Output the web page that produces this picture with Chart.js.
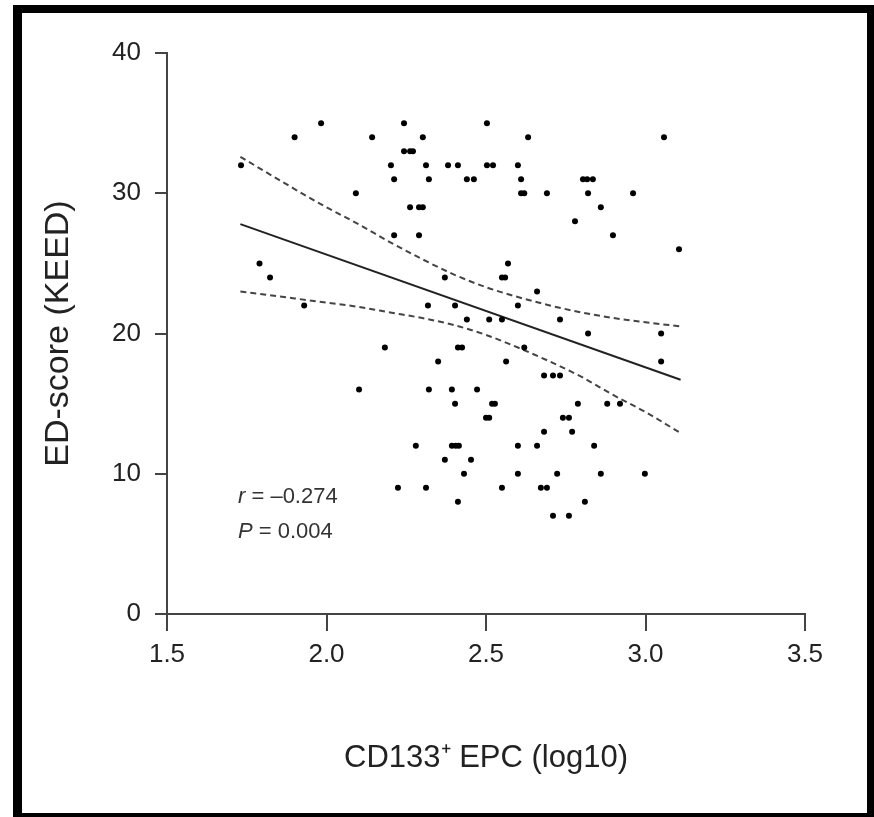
<!DOCTYPE html>
<html>
<head>
<meta charset="utf-8">
<script src="https://cdn.jsdelivr.net/npm/chart.js@4.4.1/dist/chart.umd.min.js"></script>
<style>
html, body { margin: 0; padding: 0; background: #fff; overflow: hidden; }
#frame { position: absolute; left: 13px; top: 5px; width: 861px; height: 816px; box-sizing: border-box;
  border: 8px solid #000; border-left-width: 9px; border-right-width: 7px; }
#wrap { position: absolute; left: 0; top: 0; width: 874px; height: 817px; }
</style>
</head>
<body>
<div id="frame"></div>
<div id="wrap"><canvas id="scatterChart" width="874" height="817"></canvas></div>
<script>
// CD133+ EPC (log10) vs ED-score
const epcLog = [
  1.732, 1.90, 1.983, 1.79, 1.823, 1.93,
  2.243, 2.143, 2.302, 2.243, 2.262, 2.271,
  2.202, 2.312, 2.381, 2.412, 2.503, 2.522, 2.503,
  2.212, 2.321, 2.44, 2.462,
  2.092, 2.262, 2.29, 2.302, 2.212, 2.29,
  2.569, 2.371, 2.55, 2.56,
  2.632, 3.058, 2.60, 2.61, 2.61, 2.62, 2.691, 2.804, 2.817, 2.835, 2.82, 2.86, 2.779, 2.898, 2.961, 3.105, 2.66,
  2.318, 2.403, 2.44, 2.51, 2.55, 2.183, 2.412, 2.425, 2.35, 2.563,
  2.102, 2.321, 2.393, 2.472, 2.403, 2.519, 2.528, 2.50, 2.51,
  2.28, 2.393, 2.405, 2.415, 2.371, 2.453, 2.431, 2.224, 2.312, 2.55, 2.412,
  2.60, 2.732, 2.82, 3.049, 3.049, 2.62, 2.682, 2.71, 2.732,
  2.788, 2.88, 2.92, 2.741, 2.76, 2.682, 2.77, 2.60, 2.66, 2.839,
  2.60, 2.723, 2.86, 2.998, 2.672, 2.691, 2.81, 2.71, 2.76
];
const edScore = [
  32, 34, 35, 25, 24, 22,
  35, 34, 34, 33, 33, 33,
  32, 32, 32, 32, 32, 32, 35,
  31, 31, 31, 31,
  30, 29, 29, 29, 27, 27,
  25, 24, 24, 24,
  34, 34, 32, 31, 30, 30, 30, 31, 31, 31, 30, 29, 28, 27, 30, 26, 23,
  22, 22, 21, 21, 21, 19, 19, 19, 18, 18,
  16, 16, 16, 16, 15, 15, 15, 14, 14,
  12, 12, 12, 12, 11, 11, 10, 9, 9, 9, 8,
  22, 21, 20, 20, 18, 19, 17, 17, 17,
  15, 15, 15, 14, 14, 13, 13, 12, 12, 12,
  10, 10, 10, 10, 9, 9, 8, 7, 7
];

// regression line and 95% band, read at a few x positions
const fitX = [1.73, 3.11];
const fitY = [27.8, 16.7];
const bandX = [1.73, 1.9, 2.0, 2.1, 2.2, 2.3, 2.4, 2.5, 2.6, 2.7, 2.8, 2.9, 3.0, 3.11];
const bandUpper = [32.6, 30.3, 29.0, 27.8, 26.5, 25.3, 24.2, 23.3, 22.6, 22.0, 21.5, 21.1, 20.8, 20.5];
const bandLower = [23.0, 22.5, 22.2, 21.9, 21.5, 21.1, 20.6, 19.9, 19.0, 18.0, 16.9, 15.6, 14.4, 12.9];

const xTickValues = [1.5, 2.0, 2.5, 3.0, 3.5];
const yTickValues = [0, 10, 20, 30, 40];
const statText = [['r', ' = \u20130.274'], ['P', ' = 0.004']];

const toXY = (xs, ys) => xs.map((v, i) => ({ x: v, y: ys[i] }));

const statsPlugin = {
  id: 'stats',
  afterDatasetsDraw(chart) {
    const { ctx, chartArea } = chart;
    ctx.save();
    ctx.fillStyle = '#333';
    ctx.textBaseline = 'middle';
    statText.forEach((line, i) => {
      let px = chartArea.left + 71;
      const py = 497 + i * 35;
      ctx.font = 'italic 22px "Liberation Sans", Arial, sans-serif';
      ctx.fillText(line[0], px, py);
      px += ctx.measureText(line[0]).width;
      ctx.font = '22px "Liberation Sans", Arial, sans-serif';
      ctx.fillText(line[1], px, py);
    });
    ctx.restore();
  }
};

const axisFont = { family: '"Liberation Sans", Arial, sans-serif', size: 26 };

new Chart(document.getElementById('scatterChart').getContext('2d'), {
  type: 'scatter',
  data: {
    datasets: [
      {
        label: 'ED-score',
        data: toXY(epcLog, edScore),
        backgroundColor: '#000',
        borderColor: '#000',
        pointRadius: 3,
        pointBorderWidth: 0
      },
      {
        label: 'fit',
        type: 'line',
        data: toXY(fitX, fitY),
        borderColor: '#222',
        borderWidth: 2,
        pointRadius: 0,
        fill: false
      },
      {
        label: 'upper',
        type: 'line',
        data: toXY(bandX, bandUpper),
        borderColor: '#444',
        borderWidth: 2,
        borderDash: [6, 4],
        pointRadius: 0,
        cubicInterpolationMode: 'monotone',
        fill: false
      },
      {
        label: 'lower',
        type: 'line',
        data: toXY(bandX, bandLower),
        borderColor: '#444',
        borderWidth: 2,
        borderDash: [6, 4],
        pointRadius: 0,
        cubicInterpolationMode: 'monotone',
        fill: false
      }
    ]
  },
  options: {
    responsive: false,
    animation: false,
    layout: { padding: { top: 53, right: 69, left: 0, bottom: 0 } },
    plugins: { legend: { display: false }, tooltip: { enabled: false } },
    scales: {
      x: {
        type: 'linear',
        min: 1.5,
        max: 3.5,
        afterBuildTicks: s => { s.ticks = xTickValues.map(v => ({ value: v })); },
        afterFit: s => { s.height = 203; },
        grid: { display: true, drawOnChartArea: false, drawTicks: true, tickLength: 17, color: '#444', lineWidth: 2 },
        border: { display: true, color: '#444', width: 2 },
        ticks: { color: '#222', font: axisFont, padding: 8, callback: v => Number(v).toFixed(1), maxRotation: 0 },
        title: { display: true, text: 'CD133\u207A EPC (log10)', color: '#222',
          font: { family: '"Liberation Sans", Arial, sans-serif', size: 31 }, padding: { top: 0, bottom: 40 } }
      },
      y: {
        min: 0,
        max: 40,
        afterBuildTicks: s => { s.ticks = yTickValues.map(v => ({ value: v })); },
        afterFit: s => { s.width = 167; },
        grid: { display: true, drawOnChartArea: false, drawTicks: true, tickLength: 12, color: '#444', lineWidth: 2 },
        border: { display: true, color: '#444', width: 2 },
        ticks: { color: '#222', font: axisFont, padding: 14 },
        title: { display: true, text: 'ED-score (KEED)', color: '#222',
          font: { family: '"Liberation Sans", Arial, sans-serif', size: 34 }, padding: { top: 38, bottom: 0 } }
      }
    }
  },
  plugins: [statsPlugin]
});
</script>
</body>
</html>
